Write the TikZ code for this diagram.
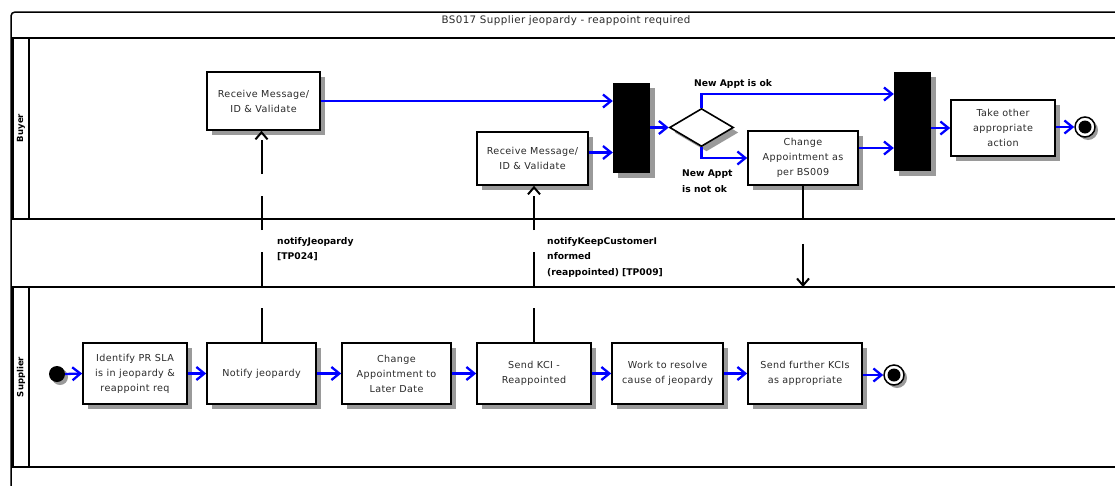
\documentclass[tikz,border=0pt]{standalone}
\usepackage{fontspec}
\newfontfamily\boxfont[LetterSpace=4]{DejaVu Sans}
\newfontfamily\lblfont{DejaVu Sans}
\usetikzlibrary{arrows.meta,shapes.geometric,shadows}
\definecolor{txt}{HTML}{2A2A2A}
\definecolor{shade}{HTML}{9A9A9A}
\definecolor{flowblue}{HTML}{0000FF}
\begin{document}
\begin{tikzpicture}[x=1pt,y=-1pt,
  shd/.style={general shadow={fill=shade, shadow xshift=5pt, shadow yshift=-5pt}},
  box/.style={draw, line width=1.6pt, fill=white, inner sep=2pt, align=center,
    font=\boxfont\fontsize{9.6}{15}\selectfont, text=txt, shd},
  bar/.style={fill=black, draw=none, inner sep=0pt, shd},
  lane/.style={line width=1.5pt},
  flow/.style={draw=flowblue, line width=2.3pt, -{Straight Barb[length=8pt,width=13pt,line width=2.3pt]}},
  msg/.style={draw=black, line width=2pt, dash pattern=on 34pt off 22pt, -{Straight Barb[length=7pt,width=12pt,line width=2pt]}},
  lbl/.style={font=\lblfont\bfseries\fontsize{9.2}{15.5}\selectfont, align=left, inner sep=0pt, anchor=north west},
  endpt/.style={circle, draw, line width=1.5pt, fill=white, minimum size=20pt, inner sep=0pt, general shadow={fill=shade, shadow xshift=3pt, shadow yshift=-3pt}}
]
\useasboundingbox (0,0) rectangle (1115,485);
\fill[white] (0,0) rectangle (1115,485);

% outer frame
\draw[lane, rounded corners=4pt] (11,495) -- (11,12) -- (1125,12);
\node[font=\boxfont\fontsize{10.3}{10}\selectfont, text=txt] (title) at (566,21) {BS017 Supplier jeopardy - reappoint required};

% Buyer lane
\draw[lane] (13,38) rectangle (29,219);
\draw[lane] (30,38) -- (1125,38);
\draw[lane] (30,219) -- (1125,219);
\node[rotate=90, font=\lblfont\bfseries\fontsize{8.5}{8}\selectfont, inner sep=0pt] (laneB) at (21,128) {Buyer};

% Supplier lane
\draw[lane] (13,287) rectangle (29,467);
\draw[lane] (30,287) -- (1125,287);
\draw[lane] (30,467) -- (1125,467);
\node[rotate=90, font=\lblfont\bfseries\fontsize{8.5}{8}\selectfont, inner sep=0pt] (laneS) at (21,377) {Supplier};
\coordinate (supTop) at (30,287);

% Buyer nodes
\node[box, minimum width=113pt, minimum height=58pt] (rb1) at (263.5,101) {Receive Message/\\ID \& Validate};
\node[box, minimum width=111pt, minimum height=53pt] (rb2) at (532.5,158.5) {Receive Message/\\ID \& Validate};
\node[bar, minimum width=37pt, minimum height=90pt] (bar1) at (631.5,128) {};
\node[diamond, draw, line width=1.6pt, fill=white, minimum width=64pt, minimum height=38pt, inner sep=0pt, shd] (dia) at (701.5,127.5) {};
\node[box, minimum width=110pt, minimum height=54pt] (chg) at (803,158) {Change\\Appointment as\\per BS009};
\node[bar, minimum width=37pt, minimum height=99pt] (bar2) at (912.5,121.5) {};
\node[box, minimum width=104pt, minimum height=56pt] (take) at (1003,128) {Take other\\appropriate\\action};
\node[endpt] (endB) at (1085,127) {};
\fill (endB) circle (6.5pt);

% Supplier nodes
\node[circle, fill=black, minimum size=16pt, inner sep=0pt, general shadow={fill=shade, shadow xshift=3pt, shadow yshift=-3pt}] (start) at (57,374) {};
\node[box, minimum width=104pt, minimum height=61pt] (ident) at (135,373.5) {Identify PR SLA\\is in jeopardy \&\\reappoint req};
\node[box, minimum width=109pt, minimum height=61pt] (notify) at (261.5,373.5) {Notify jeopardy};
\node[box, minimum width=109pt, minimum height=61pt] (later) at (396.5,373.5) {Change\\Appointment to\\Later Date};
\node[box, minimum width=114pt, minimum height=61pt] (kci) at (534,373.5) {Send KCI -\\Reappointed};
\node[box, minimum width=111pt, minimum height=61pt] (work) at (667.5,373.5) {Work to resolve\\cause of jeopardy};
\node[box, minimum width=114pt, minimum height=61pt] (further) at (805,373.5) {Send further KCIs\\as appropriate};
\node[endpt] (endS) at (894,375) {};
\fill (endS) circle (6.5pt);

% Buyer flows
\draw[flow] (rb1.east) -- (rb1.east -| bar1.west);
\path ([yshift=6pt]rb2.east) coordinate (rb2o);
\draw[flow] (rb2o) -- (rb2o -| bar1.west);
\draw[flow] (bar1.east |- dia.west) -- (dia.west);
\path (bar2.west) ++(0,-27.5) coordinate (bar2in);
\draw[flow] (dia.north) |- (bar2in);
\draw[flow] (dia.south) |- (chg.west);
\path ([yshift=10pt]chg.east) coordinate (chgo);
\draw[flow] (chgo) -- (chgo -| bar2.west);
\draw[flow] (take.west -| bar2.east) -- (take.west);
\draw[flow] (take.east |- endB) -- (endB.west);

% Supplier flows
\draw[flow] (start.east) -- (ident.west);
\draw[flow] (ident.east) -- (notify.west);
\draw[flow] (notify.east) -- (later.west);
\draw[flow] (later.east) -- (kci.west);
\draw[flow] (kci.east) -- (work.west);
\draw[flow] (work.east) -- (further.west);
\draw[flow] (further.east |- endS) -- (endS.west);

% Message flows
\draw[msg] (notify.north) -- (notify.north |- rb1.south);
\draw[msg] (kci.north) -- (kci.north |- rb2.south);
\draw[msg, dash pattern=on 34pt off 24pt on 100pt] (chg.south) -- (chg.south |- supTop);

% Labels
\node[lbl] (l1) at (277,237) {notifyJeopardy\\{}[TP024]};
\node[lbl] (l2) at (547,237) {notifyKeepCustomerI\\nformed\\(reappointed) [TP009]};
\node[lbl, anchor=west] (l3) at (694,84) {New Appt is ok};
\node[lbl] (l4) at (682,170) {New Appt\\is not ok};
\end{tikzpicture}
\end{document}
